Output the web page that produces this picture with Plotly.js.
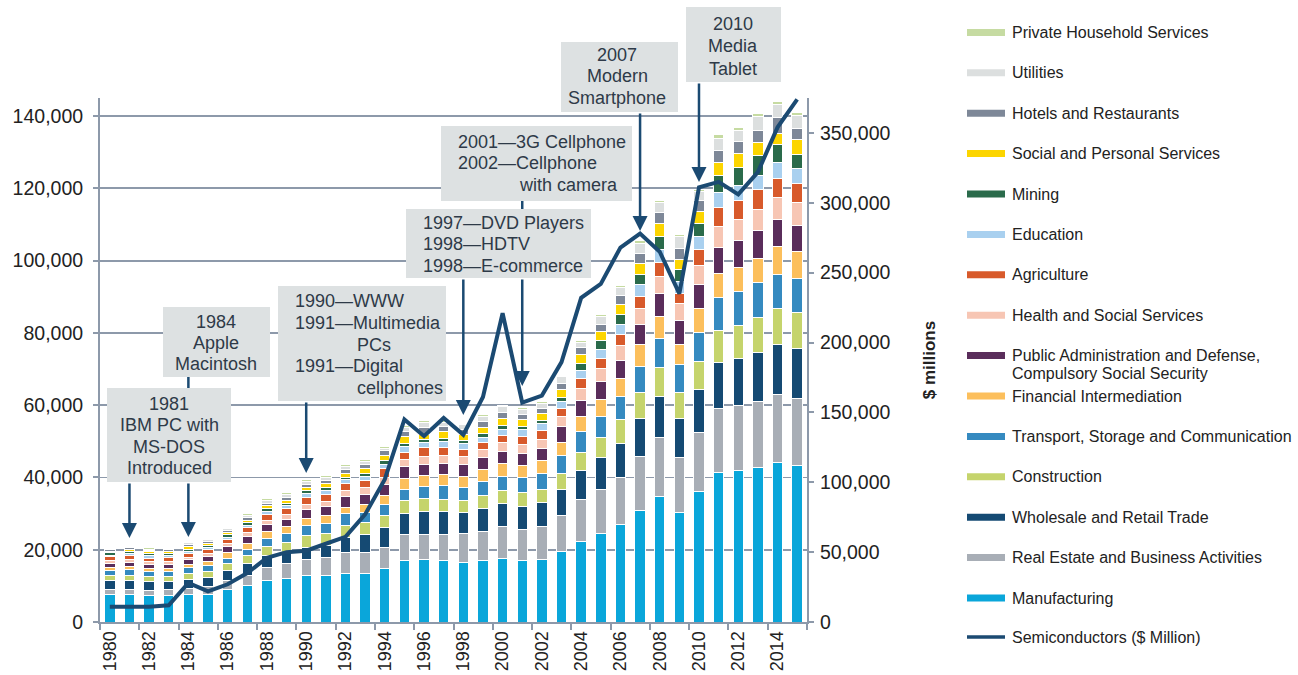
<!DOCTYPE html>
<html><head><meta charset="utf-8">
<script src="https://cdn.plot.ly/plotly-3.0.1.min.js"></script>
<style>html,body{margin:0;padding:0;background:#fff;} #chart{width:1298px;height:675px;}</style>
</head><body><div id="chart"></div>
<script>
// ---------- data ----------
const years = [1980,1981,1982,1983,1984,1985,1986,1987,1988,1989,1990,1991,1992,1993,1994,1995,1996,1997,1998,1999,2000,2001,2002,2003,2004,2005,2006,2007,2008,2009,2010,2011,2012,2013,2014,2015];
const tickYears = [1980,1982,1984,1986,1988,1990,1992,1994,1996,1998,2000,2002,2004,2006,2008,2010,2012,2014];
const leftTicks = [0,20000,40000,60000,80000,100000,120000,140000];
const rightTicks = [0,50000,100000,150000,200000,250000,300000,350000];

const manufacturing = [7500,7700,7200,7200,7700,7700,9100,10000,11400,12100,12800,12800,13500,13500,14700,17000,17400,17000,16500,17000,17700,17000,17400,19500,22300,24400,26900,30800,34800,30200,36200,41300,42000,42700,44200,43200];
const realEstate = [1600,1400,1600,1700,1700,2000,2300,2800,3700,4000,4600,5100,5600,5600,5800,7100,6900,7300,7900,8100,8800,8700,9100,10000,11500,12400,13100,15100,16200,15300,16200,17700,17800,18400,18750,18750];
const wholesale = [2300,2500,2300,2300,2500,2600,2800,3400,3200,3000,3200,3400,4200,5100,5600,6000,6300,6300,5800,6200,6300,6300,6500,7300,8100,8600,9400,10400,11400,10800,11900,12900,13100,13600,13800,13600];
const construction = [1400,1400,1400,1400,1600,1700,1900,2100,2600,3000,3200,3200,3300,3300,3300,3400,3500,3400,3400,3700,3700,3700,3700,4300,5000,5600,6500,7200,7900,7200,7800,8900,9200,9600,10100,10200];
const transport = [1400,1500,1400,1400,1500,1600,1600,1800,2300,2500,2800,2800,3300,2800,3100,3300,3400,3700,3700,4000,3900,4200,4400,5000,5700,6000,6500,7200,8200,7700,8100,8900,9300,9600,9400,9200];
const financial = [900,900,900,900,900,1100,1400,1600,1800,1800,2100,2100,1900,2300,2500,3000,3000,3100,3100,3200,3400,3400,3500,3700,4300,4600,5000,6000,6000,5600,6500,6600,6800,6800,7700,7700];
const publicAdmin = [1100,1100,1100,1100,1300,1400,1700,2000,2000,2100,2500,2600,2800,2800,3100,3200,3200,3000,3100,3200,3500,3200,3500,4200,4300,4900,5100,5600,6300,6500,6700,7300,7300,7500,7300,7000];
const health = [700,700,800,800,700,800,900,1000,1200,1200,1400,1400,1700,1900,2000,1900,2100,2300,2300,2300,2300,2600,2500,2800,3500,3600,4000,4400,4900,4800,5200,5800,6000,5900,6300,6400];
const agriculture = [1100,1100,1000,1000,1100,1100,1200,1400,1600,1600,1800,1800,1900,1900,2300,2100,2500,2300,2000,2000,2000,2300,2300,2400,2700,2800,3000,3500,3900,2800,4500,5200,5000,5600,5300,5200];
const education = [500,600,600,600,600,600,600,700,900,900,1100,1100,1100,1100,1200,1600,1400,1500,1600,1400,1700,1900,1900,1900,2100,2600,2800,3100,3500,3400,3500,4200,4200,3900,4300,4200];
const mining = [600,600,600,600,600,600,600,650,700,700,900,900,750,900,1100,900,900,800,700,1000,1100,900,900,1100,1900,2300,2800,2800,3700,3300,3700,4700,5200,5400,5100,4000];
const social = [500,500,500,500,600,600,600,700,800,800,900,1100,1100,1200,1400,1900,1400,1900,1700,1800,1900,1900,2000,2200,2700,2500,2800,3100,3400,2800,3400,3750,3750,3700,2800,4100];
const hotels = [400,500,400,500,600,600,600,650,700,700,700,900,1100,1200,1400,1200,1700,1400,1600,1700,1600,1400,1400,1700,1900,2100,2400,2800,3000,3000,2800,3300,3300,3300,4500,3100];
const utilities = [400,400,400,400,600,400,500,700,700,800,900,900,900,800,500,1300,1400,1200,1200,1400,1600,1400,1400,1700,1400,2100,2200,2800,2900,3200,2600,3300,3000,3750,3750,3600];
const privateHousehold = [300,400,300,300,400,300,300,400,500,500,400,500,500,500,500,400,600,500,400,500,500,500,500,500,500,650,560,650,650,500,500,940,940,940,750,700];
const semiconductors = [11000,11000,11000,12000,28000,22000,27000,35000,46000,50000,51000,56000,61000,77000,102000,145000,133000,146000,134000,161000,221000,157000,162000,186000,232000,242000,268000,278000,265000,235000,311000,315000,306000,322000,354000,374000];

const seriesNames = ["Manufacturing","Real Estate and Business Activities","Wholesale and Retail Trade","Construction","Transport, Storage and Communication","Financial Intermediation","Public Administration and Defense,<br>Compulsory Social Security","Health and Social Services","Agriculture","Education","Mining","Social and Personal Services","Hotels and Restaurants","Utilities","Private Household Services"];
const seriesValues = [manufacturing,realEstate,wholesale,construction,transport,financial,publicAdmin,health,agriculture,education,mining,social,hotels,utilities,privateHousehold];
const seriesColors = ["#0aa6da","#a8aeb6","#154a73","#c5d46c","#358ac0","#fcbf5c","#5a2d5b","#f7c6b4","#d85a2b","#a9d0ef","#2a6b4b","#fcd500","#7e8898","#dcdfdf","#c6dba2"];
const lineName = "Semiconductors ($ Million)";
const lineColor = "#1b4a72";

seriesValues.concat([semiconductors]).forEach((a,i)=>{ if(a.length!==years.length) throw new Error("length mismatch in series "+i+": "+a.length); });

// ---------- geometry helpers (pixel -> paper) ----------
const L=100, R=807, T=98, B=622;
const px = x => (x-L)/(R-L);
const py = y => (B-y)/(B-T);
const axisCol = "#8d99aa";
const txtCol = "#2e3a48";
const FONT = '"Liberation Sans", Arial, sans-serif';

// ---------- traces ----------
const traces = seriesValues.map((vals,i)=>({
  type:'bar', x:years, y:vals, name:seriesNames[i].replace('<br>',' '),
  marker:{color:seriesColors[i], line:{color:'#ffffff', width:1}},
  width:0.53, showlegend:false, hoverinfo:'x+y+name'
}));
traces.push({type:'scatter', mode:'lines', x:years, y:semiconductors, yaxis:'y2', name:lineName,
  line:{color:lineColor, width:4}, showlegend:false});

// ---------- annotation callouts ----------
const boxes = [
  {x0:107,x1:231,y0:388,y1:482},
  {x0:163,x1:270,y0:307,y1:377},
  {x0:278,x1:446,y0:286,y1:401},
  {x0:406,x1:591,y0:209,y1:278},
  {x0:441,x1:632,y0:126,y1:201},
  {x0:561,x1:678,y0:42,y1:112},
  {x0:686,x1:781,y0:7,y1:82}
];
const calloutLines = [
  {x:169,y:404,t:"1981",a:'center'},{x:169,y:425,t:"IBM PC with",a:'center'},{x:169,y:447,t:"MS-DOS",a:'center'},{x:169,y:468,t:"Introduced",a:'center'},
  {x:216,y:322,t:"1984",a:'center'},{x:216,y:343,t:"Apple",a:'center'},{x:216,y:364,t:"Macintosh",a:'center'},
  {x:293,y:301,t:"1990—WWW",a:'left'},{x:293,y:323,t:"1991—Multimedia",a:'left'},{x:355,y:345,t:"PCs",a:'left'},{x:293,y:366,t:"1991—Digital",a:'left'},{x:355,y:388,t:"cellphones",a:'left'},
  {x:421,y:223,t:"1997—DVD Players",a:'left'},{x:421,y:244,t:"1998—HDTV",a:'left'},{x:421,y:266,t:"1998—E-commerce",a:'left'},
  {x:456,y:142,t:"2001—3G Cellphone",a:'left'},{x:456,y:163,t:"2002—Cellphone",a:'left'},{x:517,y:185,t:"with camera",a:'left'},
  {x:617,y:55,t:"2007",a:'center'},{x:617,y:76,t:"Modern",a:'center'},{x:617,y:98,t:"Smartphone",a:'center'},
  {x:733,y:24,t:"2010",a:'center'},{x:733,y:46,t:"Media",a:'center'},{x:733,y:69,t:"Tablet",a:'center'}
];
const arrows = [
  {year:1981,tip:538,tail:482},{year:1984,tip:537,tail:482},{year:1990,tip:473,tail:401},
  {year:1998,tip:415,tail:278},{year:2001,tip:386,tail:278},{year:2007,tip:231,tail:112},{year:2010,tip:182,tail:82}
];
const connectors = [{year:1984,y0:377,y1:388},{year:2001,y0:201,y1:209}];

const shapes = [];
const annotations = [];

connectors.forEach(c=>shapes.push({type:'line', xref:'x', yref:'paper', x0:c.year, x1:c.year, y0:py(c.y0), y1:py(c.y1), line:{color:lineColor,width:2.5}, layer:'above'}));
boxes.forEach(b=>shapes.push({type:'rect', xref:'paper', yref:'paper', x0:px(b.x0), x1:px(b.x1), y0:py(b.y1), y1:py(b.y0), fillcolor:'#dde1e2', line:{width:0}, layer:'above'}));

arrows.forEach(a=>annotations.push({xref:'x', yref:'paper', x:a.year, y:py(a.tip), ax:0, ay:-(a.tip-a.tail), text:'', showarrow:true,
  arrowhead:2, arrowsize:1.2, arrowwidth:2.5, arrowcolor:lineColor, standoff:0, startstandoff:0}));
calloutLines.forEach(c=>annotations.push({xref:'paper', yref:'paper', x:px(c.x), y:py(c.y), text:c.t, showarrow:false,
  xanchor:c.a, yanchor:'middle', font:{family:FONT, size:18, color:txtCol}}));

// ---------- custom legend ----------
const legX0=967, legX1=1005, legTextX=1010, legBottom=598, legStep=40.4;
seriesNames.forEach((n,i)=>{
  const yc = legBottom - i*legStep;
  shapes.push({type:'rect', xref:'paper', yref:'paper', x0:px(legX0), x1:px(legX1), y0:py(yc+3.5), y1:py(yc-3.5), fillcolor:seriesColors[i], line:{width:0}});
  n.split('<br>').forEach((part,k)=>annotations.push({xref:'paper', yref:'paper', x:px(legTextX), y:py(yc+k*18), text:part, showarrow:false,
    xanchor:'left', yanchor:'middle', font:{family:FONT, size:16, color:'#222'}}));
});
const lineLegY = legBottom + 39;
shapes.push({type:'line', xref:'paper', yref:'paper', x0:px(legX0), x1:px(legX1), y0:py(lineLegY), y1:py(lineLegY), line:{color:lineColor,width:3.5}});
annotations.push({xref:'paper', yref:'paper', x:px(legTextX), y:py(lineLegY), text:lineName, showarrow:false, xanchor:'left', yanchor:'middle', font:{family:FONT, size:16, color:'#222'}});

// ---------- layout ----------
const layout = {
  width:1298, height:675,
  margin:{l:L, r:1298-R, t:T, b:675-B, pad:0},
  paper_bgcolor:'#ffffff', plot_bgcolor:'#ffffff',
  font:{family:FONT, color:'#222'},
  barmode:'stack', showlegend:false,
  xaxis:{range:[1979.5,2015.5], tickmode:'array', tickvals:tickYears, ticktext:tickYears.map(String), tickangle:-90,
    ticks:'', showline:true, linecolor:axisCol, linewidth:2, showgrid:false, zeroline:false,
    tickfont:{size:18, color:'#222'},
    minor:{tick0:1979.5, dtick:2, ticks:'outside', ticklen:6, tickcolor:axisCol, tickwidth:2, showgrid:false}},
  yaxis:{range:[0,145000], tickmode:'array', tickvals:leftTicks, tickformat:',', ticks:'outside', ticklen:5, tickwidth:2, tickcolor:axisCol,
    showline:true, linecolor:axisCol, linewidth:2, showgrid:true, gridcolor:axisCol, gridwidth:1.8, zeroline:false,
    ticklabelstandoff:6, tickfont:{size:19.5, color:'#222'}},
  yaxis2:{overlaying:'y', side:'right', range:[0,375000], tickmode:'array', tickvals:rightTicks, tickformat:',', ticks:'outside', ticklen:5, tickwidth:2, tickcolor:axisCol,
    showline:true, linecolor:axisCol, linewidth:2, showgrid:false, zeroline:false,
    ticklabelstandoff:2, tickfont:{size:19.5, color:'#222'},
    title:{text:'<b>$ millions</b>', font:{size:17, color:'#222'}, standoff:34}},
  shapes:shapes, annotations:annotations
};
Plotly.newPlot('chart', traces, layout, {displayModeBar:false, staticPlot:true});
</script>
</body></html>
